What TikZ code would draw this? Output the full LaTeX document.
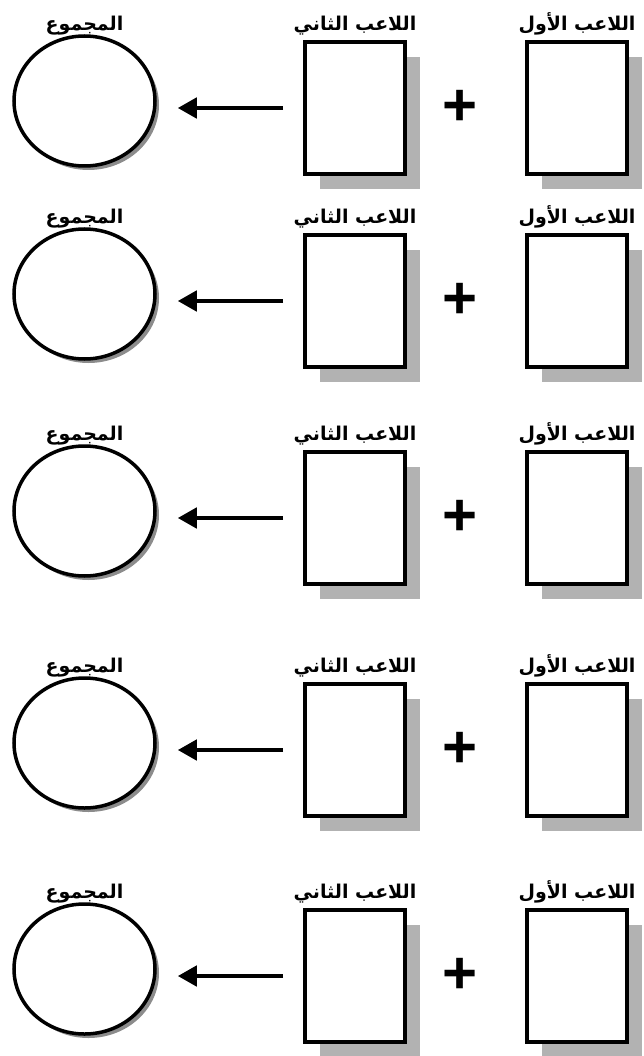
\documentclass[tikz,border=0pt]{standalone}
\usepackage{fontspec}
\setmainfont{Liberation Sans}
\newfontfamily\arabicfont[Script=Arabic]{DejaVu Sans}
\TeXXeTstate=1
\usetikzlibrary{
  arrows.meta,
  positioning,
  shapes.geometric,
  shadows
}

\begin{document}
\begin{tikzpicture}[x=1pt, y=-1pt,
  card/.style={draw, line width=3.8pt, fill=white, minimum width=100pt, minimum height=132pt, inner sep=0pt,
    drop shadow={shadow xshift=15pt, shadow yshift=-15pt, fill=black!30, opacity=1}},
  total/.style={ellipse, draw, line width=3.5pt, fill=white, minimum width=141pt, minimum height=130pt, inner sep=0pt,
    drop shadow={shadow xshift=4pt, shadow yshift=-4pt, fill=black!45, opacity=1}},
  lbl/.style={font=\arabicfont\bfseries\fontsize{19}{22}\selectfont, inner sep=0pt},
  plus/.style={font=\bfseries\fontsize{60}{60}\selectfont, inner sep=0pt},
  arrow/.style={-{Triangle[length=19pt, width=20pt]}, line width=4.5pt},
]
\useasboundingbox (0,0) rectangle (643,1056);

\foreach \yy/\n in {40/1, 233/2, 450/3, 682/4, 908/5} {
  % Players and total
  \node[card] (first\n) at (577, \yy+68) {};
  \node[card] (second\n) at (355, \yy+68) {};
  \node[total] (sum\n) at (84.5, \yy+61) {};

  % Titles
  \node[lbl, above=5pt of first\n] (tfirst\n) {\beginR اللاعب الأول\endR};
  \node[lbl, above=5pt of second\n] (tsecond\n) {\beginR اللاعب الثاني\endR};
  \node[lbl, anchor=base] (tsum\n) at (sum\n |- tsecond\n.base) {\beginR المجموع\endR};

  % Plus sign and arrow
  \node[plus] (plus\n) at (460, \yy+68) {+};
  \draw[arrow, shorten <=20pt, shorten >=21pt] (second\n.west) -- (second\n.west -| sum\n.east);
}
\end{tikzpicture}
\end{document}
